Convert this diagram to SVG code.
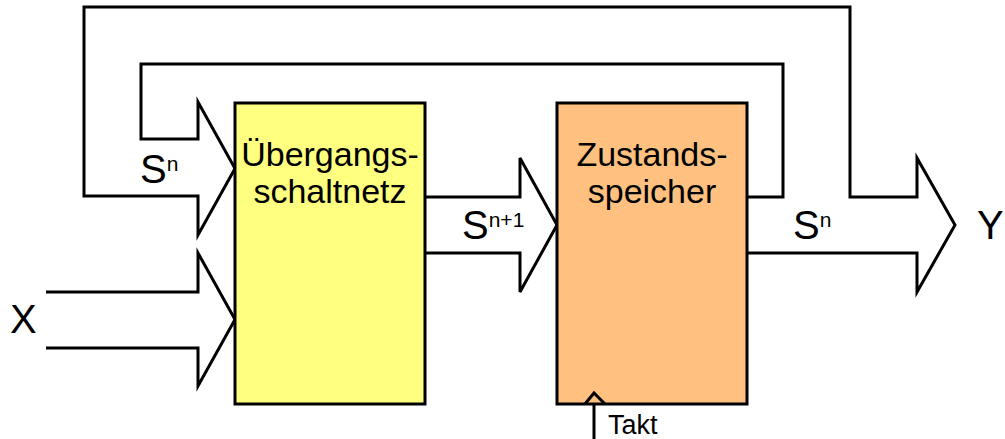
<svg xmlns="http://www.w3.org/2000/svg" width="1005" height="439" viewBox="0 0 1005 439">
<style>
.ln{fill:none;stroke:#000;stroke-width:3;stroke-linejoin:miter;stroke-linecap:butt}
.box{stroke:#000;stroke-width:3}
.t{font-family:"Liberation Sans",Arial,sans-serif;fill:#000}
.big{font-size:40px}
.lbl{font-size:34px;text-anchor:middle}
.sup{font-size:21px}
.small{font-size:27px}
</style>
<rect width="1005" height="439" fill="#fff"/>
<g id="connectors">
<polyline class="ln" points="747,197 783,197 783,64 141,64 141,139 198,139 198,102 235,168.5 198,235 198,196 84,196 84,7 850,7 850,197 917,197 917,158 955,225 917,292 917,253 747,253"/>
<polyline class="ln" points="425,197 520,197 520,158 557,225 520,292 520,253 425,253"/>
<polyline class="ln" points="46,292 198,292 198,253 235,319.5 198,386 198,348 46,348"/>
</g>
<g id="uebergangsschaltnetz">
<rect class="box" x="235" y="103" width="190" height="301" fill="#FFFF80"/>
<text class="t lbl" x="330" y="166">Übergangs-</text>
<text class="t lbl" x="330" y="203">schaltnetz</text>
</g>
<g id="zustandsspeicher">
<rect class="box" x="557" y="103" width="190" height="301" fill="#FFC080"/>
<text class="t lbl" x="652" y="166">Zustands-</text>
<text class="t lbl" x="652" y="203">speicher</text>
<polyline class="ln" points="585,404 594,393 605,404"/>
</g>
<g id="takt">
<line class="ln" x1="594" y1="404" x2="594" y2="439"/>
<text class="t small" x="608" y="434">Takt</text>
</g>
<g id="labels">
<text class="t big" x="140" y="183">S<tspan class="sup" dy="-12">n</tspan></text>
<text class="t big" x="462" y="239">S<tspan class="sup" dy="-12">n+1</tspan></text>
<text class="t big" x="793" y="239">S<tspan class="sup" dy="-12">n</tspan></text>
<text class="t big" x="10" y="333">X</text>
<text class="t big" x="977" y="239">Y</text>
</g>
</svg>
